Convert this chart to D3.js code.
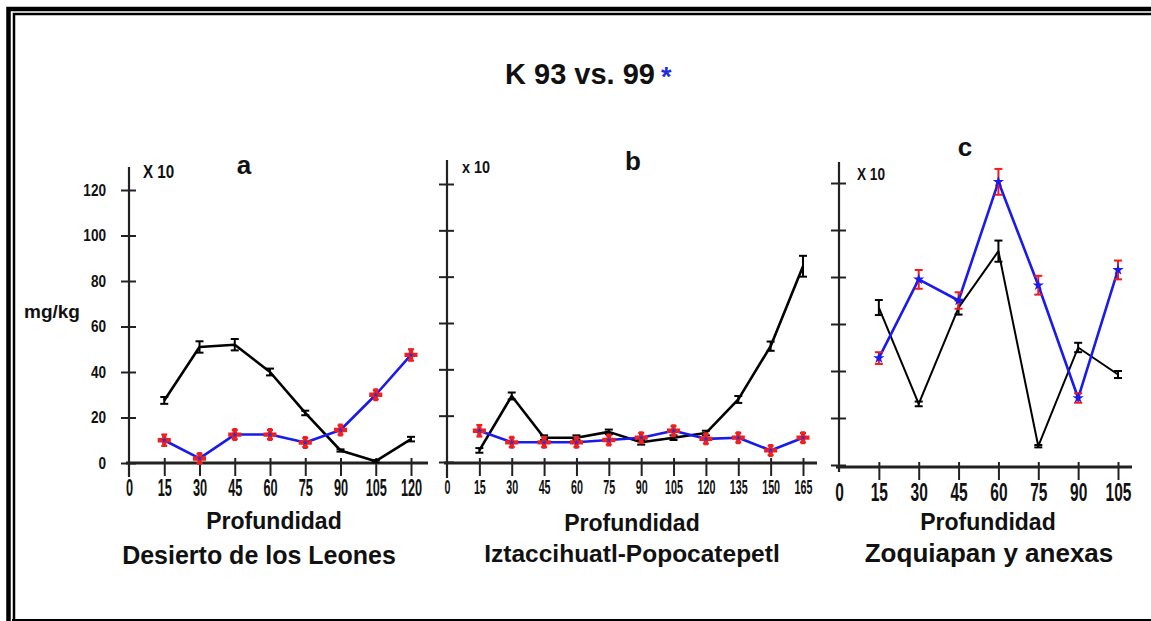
<!DOCTYPE html>
<html>
<head>
<meta charset="utf-8">
<script src="https://cdn.jsdelivr.net/npm/d3@7"></script>
<style>
body { margin: 0; background: #fff; }
svg text { font-family: "Liberation Sans", Arial, sans-serif; font-weight: bold; fill: #111; }
</style>
</head>
<body>
<svg id="chart" width="1151" height="621"></svg>
<script>
// values, mg/kg (x10)
const yTicks = [0, 20, 40, 60, 80, 100, 120];

const depthsA = [15, 30, 45, 60, 75, 90, 105, 120];
const k93A    = [27.5, 51, 52, 40, 22, 5.5, 0.8, 10.5];
const k93ErrA = [1.5, 2.5, 2.5, 1.5, 1, 0.5, 0.5, 1];
const k99A    = [10, 2, 12.5, 12.5, 9, 14.5, 30, 47.5];
const k99ErrA = [2.5, 2, 2, 2, 2, 2, 2, 2.5];

const depthsB = [15, 30, 45, 60, 75, 90, 105, 120, 135, 150, 165];
const k93B    = [5, 28.5, 10.5, 10.5, 13, 8.5, 10.5, 12.5, 27, 50, 84.5];
const k93ErrB = [1, 1.5, 1, 1, 1, 1, 1, 1, 1.5, 2, 4.5];
const k99B    = [13.5, 8.5, 8.5, 8.5, 9.5, 10.5, 13.5, 10, 10.5, 5, 10.5];
const k99ErrB = [2.5, 2, 2, 2, 2, 2, 2, 2, 2, 2, 2];

const depthsC = [15, 30, 45, 60, 75, 90, 105];
const k93C    = [67, 26, 67, 91, 8, 50, 38.5];
const k93ErrC = [3.2, 1, 3, 4.5, 0.5, 2, 1.5];
const k99C    = [45.5, 79, 70, 120.5, 76.5, 28.5, 83];
const k99ErrC = [2.5, 4, 3.5, 5.5, 4, 2, 4];

const panels = [
    { id: "a", depths: depthsA, k93: k93A, e93: k93ErrA, k99: k99A, e99: k99ErrA,
      xMax: 120, xr: [129, 411], yr: [463, 190], yLine: [167, 477], xEnd: 428, axisY: 463,
      tickFont: 24, tickSx: 0.53, yLabels: true,
      mult: "X 10", multPos: [143, 178], multFont: 19, multSx: 0.8,
      letterPos: [244, 174], site: "Desierto de los Leones", siteFont: 25,
      profPos: [274, 529], sitePos: [259, 564], star: false },
    { id: "b", depths: depthsB, k93: k93B, e93: k93ErrB, k99: k99B, e99: k99ErrB,
      xMax: 165, xr: [447, 803], yr: [462, 184], yLine: [160, 478], xEnd: 817, axisY: 463,
      tickFont: 21, tickSx: 0.51, yLabels: false,
      mult: "x 10", multPos: [462, 173], multFont: 17, multSx: 0.85,
      letterPos: [633, 170], site: "Iztaccihuatl-Popocatepetl", siteFont: 24.5,
      profPos: [632, 531], sitePos: [632, 562], star: false },
    { id: "c", depths: depthsC, k93: k93C, e93: k93ErrC, k99: k99C, e99: k99ErrC,
      xMax: 105, xr: [839, 1118], yr: [465, 183], yLine: [162, 472], xEnd: 1132, axisY: 467,
      tickFont: 25, tickSx: 0.62, yLabels: false,
      mult: "X 10", multPos: [857, 180], multFont: 16, multSx: 0.85,
      letterPos: [965, 156], site: "Zoquiapan y anexas", siteFont: 26,
      profPos: [988, 530], sitePos: [989, 562], star: true }
];

const svg = d3.select("#chart");

// frame: thick + thin double rule on top and left
const frame = svg.append("g").attr("stroke", "#000").attr("fill", "none");
frame.append("path").attr("d", "M8.5,621 V9 H1151").attr("stroke-width", 4.5);
frame.append("path").attr("d", "M14,621 V14 H1151").attr("stroke-width", 2.5);
frame.append("path").attr("d", "M12,620 H1151").attr("stroke-width", 2);

svg.append("text")
    .attr("x", 505).attr("y", 84)
    .attr("font-size", 29)
    .text("K 93 vs. 99");
svg.append("text")
    .attr("x", 661).attr("y", 86)
    .attr("font-size", 27)
    .style("fill", "#1f2ee0")
    .text("*");

svg.append("text")
    .attr("x", 24).attr("y", 318)
    .attr("font-size", 19)
    .text("mg/kg");

function errBars(g, pts, x, y, color, cap) {
    const eb = g.append("g").attr("stroke", color).attr("stroke-width", 2);
    eb.selectAll("line.v").data(pts).join("line").attr("class", "v")
        .attr("x1", d => x(d.d)).attr("x2", d => x(d.d))
        .attr("y1", d => y(d.v - d.e)).attr("y2", d => y(d.v + d.e));
    eb.selectAll("line.t").data(pts).join("line").attr("class", "t")
        .attr("x1", d => x(d.d) - cap).attr("x2", d => x(d.d) + cap)
        .attr("y1", d => y(d.v + d.e)).attr("y2", d => y(d.v + d.e));
    eb.selectAll("line.b").data(pts).join("line").attr("class", "b")
        .attr("x1", d => x(d.d) - cap).attr("x2", d => x(d.d) + cap)
        .attr("y1", d => y(d.v - d.e)).attr("y2", d => y(d.v - d.e));
}

function drawPanel(p) {
    const g = svg.append("g").attr("class", "panel-" + p.id);
    const x = d3.scaleLinear().domain([0, p.xMax]).range(p.xr);
    const y = d3.scaleLinear().domain([0, 120]).range(p.yr);

    // y axis, ticks crossing the line
    const gy = g.append("g")
        .attr("transform", `translate(${p.xr[0]},0)`)
        .call(d3.axisLeft(y).tickValues(yTicks).tickSize(0).tickPadding(23)
            .tickFormat(p.yLabels ? d => d : () => ""));
    gy.select(".domain").remove();
    gy.selectAll(".tick line").attr("x1", -8).attr("x2", 7)
        .attr("stroke", "#222").attr("stroke-width", 2);
    gy.selectAll(".tick text").attr("font-size", 17)
        .attr("transform", "translate(-23,0) scale(0.8,1) translate(23,0)");
    g.append("line")
        .attr("x1", p.xr[0]).attr("x2", p.xr[0])
        .attr("y1", p.yLine[0]).attr("y2", p.yLine[1])
        .attr("stroke", "#222").attr("stroke-width", 2.2);

    // x axis
    const gx = g.append("g")
        .attr("transform", `translate(0,${p.axisY})`)
        .call(d3.axisBottom(x).tickValues([0].concat(p.depths)).tickSize(0).tickPadding(16));
    gx.select(".domain").remove();
    gx.selectAll(".tick line").attr("y1", -5).attr("y2", 13)
        .attr("stroke", "#222").attr("stroke-width", 2);
    gx.selectAll(".tick line").filter(d => d === 0).remove();
    gx.selectAll(".tick text").attr("font-size", p.tickFont)
        .attr("transform", `scale(${p.tickSx},1)`);
    g.append("line")
        .attr("x1", p.xr[0] - 3).attr("x2", p.xEnd)
        .attr("y1", p.axisY).attr("y2", p.axisY)
        .attr("stroke", "#222").attr("stroke-width", 3);

    const pts93 = p.depths.map((d, i) => ({ d: d, v: p.k93[i], e: p.e93[i] }));
    const pts99 = p.depths.map((d, i) => ({ d: d, v: p.k99[i], e: p.e99[i] }));
    const line = d3.line().x(d => x(d.d)).y(d => y(d.v));

    g.append("path").datum(pts93).attr("d", line)
        .attr("fill", "none").attr("stroke", "#000")
        .attr("stroke-width", p.star ? 2 : 2.6).attr("stroke-linejoin", "round");
    errBars(g, pts93, x, y, "#000", 4);

    g.append("path").datum(pts99).attr("d", line)
        .attr("fill", "none").attr("stroke", "#1a1aee")
        .attr("stroke-width", 2.6).attr("stroke-linejoin", "round");
    errBars(g, pts99, x, y, "#ee1c1c", p.star ? 4 : 3);

    if (p.star) {
        g.selectAll("path.mk").data(pts99).join("path").attr("class", "mk")
            .attr("transform", d => `translate(${x(d.d)},${y(d.v)})`)
            .attr("d", d3.symbol(d3.symbolStar, 40))
            .attr("fill", "#1a1aee");
    } else {
        g.selectAll("path.mk").data(pts99).join("path").attr("class", "mk")
            .attr("transform", d => `translate(${x(d.d)},${y(d.v)})`)
            .attr("d", d3.symbol(d3.symbolCross, 95))
            .attr("fill", "#f02020");
        g.selectAll("path.mk2").data(pts99).join("path").attr("class", "mk2")
            .attr("transform", d => `translate(${x(d.d)},${y(d.v)})`)
            .attr("d", d3.symbol(d3.symbolStar, 10))
            .attr("fill", "#3030d0");
    }

    // labels
    g.append("text")
        .attr("transform", `translate(${p.multPos[0]},${p.multPos[1]}) scale(${p.multSx},1)`)
        .attr("font-size", p.multFont).text(p.mult);
    g.append("text")
        .attr("x", p.letterPos[0]).attr("y", p.letterPos[1])
        .attr("text-anchor", "middle").attr("font-size", 26).text(p.id);
    g.append("text")
        .attr("x", p.profPos[0]).attr("y", p.profPos[1])
        .attr("text-anchor", "middle").attr("font-size", 23).text("Profundidad");
    g.append("text")
        .attr("x", p.sitePos[0]).attr("y", p.sitePos[1])
        .attr("text-anchor", "middle").attr("font-size", p.siteFont).text(p.site);
}

panels.forEach(drawPanel);
</script>
</body>
</html>
